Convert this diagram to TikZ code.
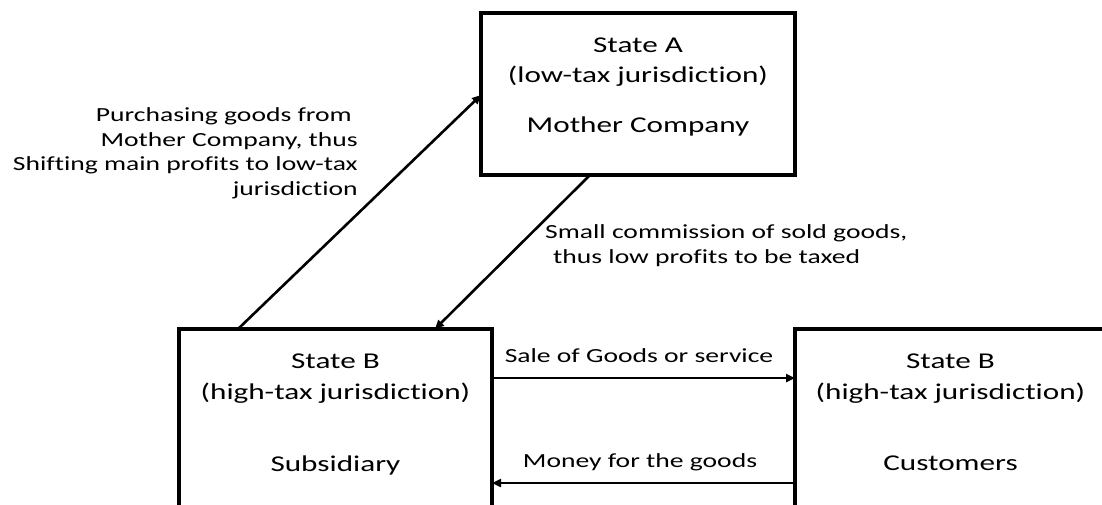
\documentclass[tikz,border=0pt]{standalone}
\usepackage{fontspec}
\setmainfont{Carlito}[FakeStretch=1.38,RawFeature={-liga}]
\usetikzlibrary{arrows.meta}
\begin{document}
\begin{tikzpicture}[x=1pt,y=-1pt,
  box/.style={draw=black,line width=3.1pt,inner sep=0pt,outer sep=0pt,rectangle},
  btxt/.style={anchor=base,inner sep=0pt,font=\fontsize{22.6}{27}\selectfont},
  ltxt/.style={anchor=base,inner sep=0pt,font=\fontsize{20}{24.5}\selectfont},
  arr/.style={line width=2.6pt,-{Triangle[length=9pt,width=8pt]}}]
\useasboundingbox (0,0) rectangle (1102,504);
\fill[white] (0,0) rectangle (1102,504);
\clip (0,0) rectangle (1102,504);
% boxes
\node[box,minimum width=314pt,minimum height=162pt] (mother) at (638,94) {};
\node[box,minimum width=313pt,minimum height=231pt] (sub) at (335.5,444.5) {};
\node[box,minimum width=313pt,minimum height=231pt] (cust) at (951.5,444.5) {};
% box texts
\node[btxt] (ma) at (638,52) {State A};
\node[btxt] (mb) at (638,82) {(low-tax jurisdiction)};
\node[btxt] (mc) at (638,132) {Mother Company};
\node[btxt] (sa) at (335.5,368) {State B};
\node[btxt] (sb) at (335.5,399) {(high-tax jurisdiction)};
\node[btxt] (sc) at (335.5,471) {Subsidiary};
\node[btxt] (ca) at (950.5,368) {State B};
\node[btxt] (cb) at (950.5,399) {(high-tax jurisdiction)};
\node[btxt] (cc) at (950.5,470) {Customers};
% labels
\node[ltxt,anchor=base east,align=right] (lpurch) at (358,195)
  {Purchasing goods from\kern6pt\\Mother Company, thus\\Shifting main profits to low-tax\\jurisdiction};
\node[ltxt,anchor=base west,align=left] (lcomm) at (545,263)
  {Small commission of sold goods,\\\kern8pt thus low profits to be taxed};
\node[ltxt] (lsale) at (639,362) {Sale of Goods or service};
\node[ltxt] (lmoney) at (640,467) {Money for the goods};
% connectors
\draw[arr] ([xshift=59pt]sub.north west) -- (mother.west |- 0,95);
\draw[arr] ([xshift=109pt]mother.south west) -- ([xshift=256pt]sub.north west);
\draw[arr] (sub.east |- 0,378) -- (cust.west |- 0,378);
\draw[arr] (cust.west |- 0,483) -- (sub.east |- 0,483);
\end{tikzpicture}
\end{document}
